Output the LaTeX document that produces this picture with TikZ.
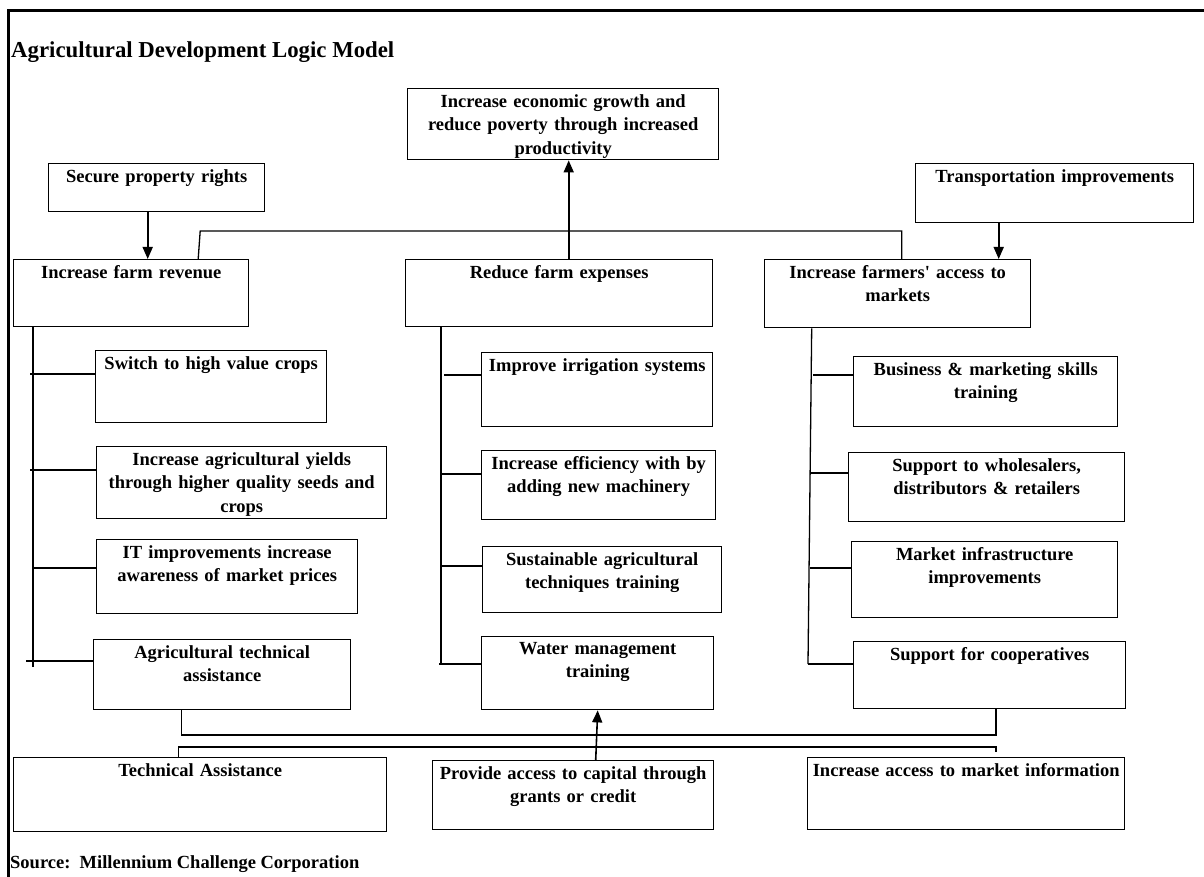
\documentclass[tikz,border=0pt]{standalone}
\usepackage{fontspec}
\setmainfont{Liberation Serif}
\usetikzlibrary{arrows.meta,calc}
\tikzset{
  box/.style={draw, line width=1.4pt, inner sep=0pt, anchor=north west},
  lbl/.style={font=\fontsize{18.5}{23.5}\selectfont\bfseries, align=center, inner sep=0pt, anchor=north},
  conn/.style={line width=1.3pt},
  arr/.style={line width=1.6pt, -{Triangle[width=10pt,length=12pt]}},
}
\newcommand\mybox[6]{%
  \pgfmathsetmacro\mybw{#4-#2}%
  \pgfmathsetmacro\mybh{#5-#3}%
  \pgfmathsetmacro\mytw{#4-#2+30}%
  \node[box, minimum width=\mybw pt, minimum height=\mybh pt] (#1) at (#2,#3) {};
  \node[lbl, text width=\mytw pt] (#1-t) at ([yshift=-6pt]#1.north) {#6};
}
\begin{document}
\begin{tikzpicture}[x=1pt,y=-1pt]
\useasboundingbox (0,0) rectangle (1204,877);
% frame
\draw[line width=3pt] (8,877) -- (8,11) -- (1204,11);
\node[anchor=west, inner sep=0pt, font=\fontsize{22.8}{26}\selectfont\bfseries] (title) at (11,52) {Agricultural Development Logic Model};
\node[anchor=west, inner sep=0pt, font=\fontsize{18.5}{21}\selectfont\bfseries] (source) at (10,864) {Source:\ \ Millennium Challenge Corporation};

% top
\mybox{goal}{407}{88}{718}{159}{Increase economic growth and\\reduce poverty through increased\\productivity}
\mybox{sec}{48}{163}{264}{211}{Secure property rights}
\mybox{trn}{915}{163}{1193}{222}{Transportation improvements}
\mybox{rev}{13}{259}{248}{326}{Increase farm revenue}
\mybox{exp}{405}{259}{712}{326}{Reduce farm expenses}
\mybox{mkt}{764}{259}{1030}{327}{Increase farmers\textquotesingle\ access to\\markets}
% left column
\mybox{sw}{95}{350}{326}{422}{Switch to high value crops}
\mybox{yl}{96}{446}{386}{518}{Increase agricultural yields\\through higher quality seeds and\\crops}
\mybox{it}{96}{539}{357}{613}{IT improvements increase\\awareness of market prices}
\mybox{ata}{93}{639}{350}{709}{Agricultural technical\\assistance}
% middle column
\mybox{irr}{481}{352}{712}{426}{Improve irrigation systems}
\mybox{eff}{481}{450}{715}{519}{Increase efficiency with by\\adding new machinery}
\mybox{sus}{482}{546}{721}{612}{Sustainable agricultural\\techniques training}
\mybox{wm}{481}{636}{713}{709}{Water management\\training}
% right column
\mybox{bus}{853}{356}{1117}{426}{Business \& marketing skills\\training}
\mybox{whl}{848}{452}{1124}{521}{Support to wholesalers,\\distributors \& retailers}
\mybox{inf}{851}{541}{1117}{617}{Market infrastructure\\improvements}
\mybox{coop}{853}{641}{1125}{708}{Support for cooperatives}
% bottom
\mybox{ta}{13}{757}{386}{831}{Technical Assistance}
\mybox{cap}{432}{760}{713}{829}{Provide access to capital through\\grants or credit}
\mybox{mi}{807}{757}{1124}{829}{Increase access to market information}

% arrows into top row
\draw[arr] ([xshift=-9pt]sec.south) -- ([xshift=-9pt]sec.south |- rev.north);
\draw[arr] ([xshift=-56pt]trn.south) -- ([xshift=-56pt]trn.south |- mkt.north);
\draw[conn] ([xshift=67pt]rev.north) -- ++(2,-28) -| ([xshift=4pt]mkt.north);
\draw[arr] ([xshift=9.5pt]exp.north) -- ([xshift=9.5pt]exp.north |- goal.south);

% trunks
\coordinate (tLb) at (33,667);
\coordinate (tMb) at (441,664);
\coordinate (tRb) at (808,664);
\draw[conn] (rev.south -| tLb) -- (tLb);
\draw[conn] (exp.south -| tMb) -- (tMb);
\draw[conn] ([xshift=-86pt]mkt.south) -- (tRb);
% left branches
\draw[conn] (30,374) -- (sw.west |- 0,374);
\draw[conn] (30,470) -- (yl.west |- 0,470);
\draw[conn] (33,568) -- (it.west |- 0,568);
\draw[conn] (26,661) -- (ata.west |- 0,661);
% middle branches
\draw[conn] (444,375) -- (irr.west |- 0,375);
\draw[conn] (441,474) -- (eff.west |- 0,474);
\draw[conn] (441,566) -- (sus.west |- 0,566);
\draw[conn] (439,664) -- (wm.west |- 0,664);
% right branches
\draw[conn] (813,375) -- (bus.west |- 0,375);
\draw[conn] (810,473) -- (whl.west |- 0,473);
\draw[conn] (810,568) -- (inf.west |- 0,568);
\draw[conn] (808,664) -- (coop.west |- 0,664);

% bottom connectors
\coordinate (b1) at (996,735);
\coordinate (b2) at (996,747);
\draw[conn] ([xshift=-41pt]ata.south) |- (b1) -- (b1 |- coop.south);
\draw[conn] ([xshift=-21.5pt]ta.north) |- (b2) -- ++(0,5);
\draw[arr] ([xshift=22.5pt]cap.north) -- (wm.south);
\end{tikzpicture}
\end{document}
